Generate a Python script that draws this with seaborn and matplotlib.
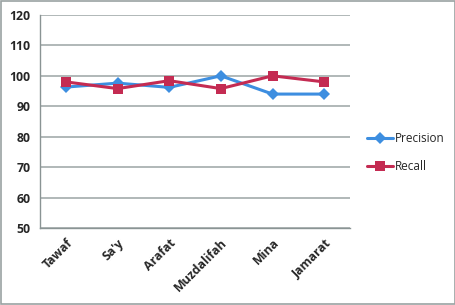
import seaborn as sns
import matplotlib.pyplot as plt
import matplotlib.patches as mpatches
import pandas as pd
import numpy as np

# data
stages = ['Tawaf', "Sa'y", 'Arafat', 'Muzdalifah', 'Mina', 'Jamarat']
precision = [96.3, 97.6, 96.2, 100.0, 94.0, 94.0]
recall = [98.0, 95.8, 98.4, 95.8, 100.0, 98.0]

df = pd.DataFrame({
    'Stage': stages * 2,
    'Value': precision + recall,
    'Metric': ['Precision'] * len(stages) + ['Recall'] * len(stages),
})

sns.set_style("white")
plt.rcParams['font.family'] = ['Open Sans', 'DejaVu Sans']

fig = plt.figure(figsize=(4.56, 3.05), dpi=100)
ax = fig.add_axes([0.088, 0.2525, 0.6795, 0.6985])

palette = {'Precision': '#3d8ee0', 'Recall': '#c42b52'}
sns.lineplot(data=df, x='Stage', y='Value', hue='Metric', style='Metric',
             markers={'Precision': 'D', 'Recall': 's'}, dashes=False,
             palette=palette, linewidth=2.2, markersize=6.5,
             markeredgewidth=0, sort=False, ax=ax)

ax.set_ylim(50, 120)
ax.set_yticks(np.arange(50, 121, 10))
ax.set_xlim(-0.5, len(stages) - 0.5)
ax.grid(axis='y', color='#a3abab', linewidth=1.2)
ax.set_axisbelow(True)

ax.set_xlabel('')
ax.set_ylabel('')
ax.set_xticks(range(len(stages)))
ax.set_xticklabels(stages, rotation=45, ha='right', rotation_mode='anchor',
                   fontsize=8.8, fontweight='bold')
ax.tick_params(axis='x', which='major', length=0, pad=6)
ax.set_xticks(np.arange(-0.5, len(stages), 1), minor=True)
ax.tick_params(axis='x', which='minor', length=4, color='#8a9494', width=1)
ax.tick_params(axis='y', length=4, color='#8a9494', labelsize=8.8, pad=3)
for lab in ax.get_yticklabels():
    lab.set_fontweight('bold')

for side in ['top', 'right']:
    ax.spines[side].set_visible(False)
for side in ['left', 'bottom']:
    ax.spines[side].set_color('#8a9494')
    ax.spines[side].set_linewidth(1)

leg = ax.legend(loc='center left', bbox_to_anchor=(1.02, 0.355), frameon=False,
                fontsize=8.5, handlelength=2.2, handletextpad=0.2, labelspacing=1.3)

# outer chart border
fig.patches.append(mpatches.Rectangle((0.002, 0.003), 0.996, 0.994, transform=fig.transFigure,
                                      fill=False, edgecolor='#9aa2a2', linewidth=1.2))

plt.savefig('out.png', dpi=100)
